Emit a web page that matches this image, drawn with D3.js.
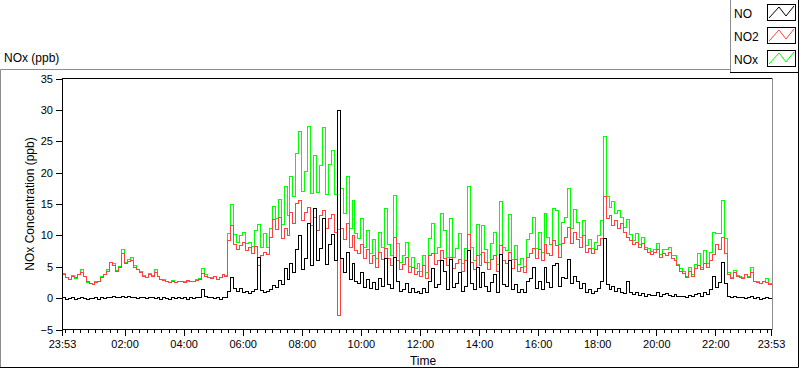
<!DOCTYPE html>
<html>
<head>
<meta charset="utf-8">
<script src="https://cdn.jsdelivr.net/npm/d3@7"></script>
<style>
    body { margin: 0; background: #fff; }
    svg { display: block; font-family: "Liberation Sans", Arial, sans-serif; }
</style>
</head>
<body>
<svg id="chart" width="800" height="369"></svg>
<script>
// readings every 6 min from 23:53, one row per hour
const startTime = new Date(2000, 0, 1, 23, 53)
const endTime = new Date(2000, 0, 2, 23, 53)
const stepMinutes = 6

const seriesNames = ['NO', 'NO2', 'NOx']

const noValues = [
    [0.1, -0.1, 0.0, 0.1, -0.1, 0.0, 0.1, 0.0, -0.1, 0.0],
    [0.0, 0.1, -0.1, 0.1, 0.0, 0.2, 0.1, 0.3, 0.1, 0.2],
    [0.4, 0.2, 0.3, 0.1, 0.2, 0.0, 0.2, 0.1, 0.0, 0.1],
    [0.1, 0.0, 0.1, -0.1, 0.1, 0.0, -0.1, 0.1, 0.0, 0.1],
    [0.0, 0.1, -0.1, 0.1, 0.0, 0.1, 0.2, 1.5, 0.3, 0.1],
    [0.1, 0.0, 0.1, -0.1, 0.1, 0.2, 1.2, 3.4, 1.6, 1.2],
    [1.6, 1.0, 1.2, 0.8, 1.1, 1.4, 6.6, 1.3, 0.9, 1.2],
    [1.4, 2.1, 1.8, 2.9, 2.2, 4.8, 3.1, 5.6, 4.2, 7.9],
    [10.0, 4.6, 6.4, 12.0, 5.2, 14.4, 6.1, 8.0, 12.8, 5.4],
    [8.6, 10.2, 6.0, 30.0, 6.4, 4.2, 7.4, 3.0, 5.6, 2.8],
    [2.4, 4.2, 1.8, 3.0, 1.6, 2.6, 1.4, 3.2, 2.0, 6.4],
    [2.2, 1.6, 6.6, 2.8, 1.2, 1.4, 2.4, 0.9, 1.6, 1.0],
    [1.2, 0.8, 1.6, 0.9, 2.8, 4.8, 1.8, 2.2, 6.0, 4.4],
    [1.4, 6.2, 1.8, 2.4, 4.2, 1.2, 2.0, 7.6, 2.4, 1.4],
    [5.0, 1.8, 4.2, 2.0, 1.2, 2.6, 3.8, 1.0, 7.0, 2.2],
    [2.0, 6.0, 1.4, 2.2, 1.0, 1.4, 0.9, 2.8, 3.2, 5.0],
    [1.6, 2.8, 1.4, 5.0, 2.6, 1.8, 5.2, 5.6, 2.0, 3.4],
    [3.2, 6.2, 2.4, 3.6, 2.8, 1.6, 2.4, 1.0, 1.4, 0.8],
    [1.2, 1.6, 2.8, 9.6, 2.2, 1.4, 2.0, 1.2, 1.6, 1.0],
    [0.8, 2.8, 0.9, 0.6, 1.0, 0.5, 0.8, 0.4, 0.6, 0.5],
    [0.5, 0.9, 0.4, 0.6, 0.8, 0.5, 0.4, 0.6, 0.3, 0.4],
    [0.3, 0.2, 0.5, 0.3, 0.6, 0.8, 0.4, 1.0, 0.6, 1.4],
    [3.6, 1.8, 2.6, 5.8, 2.4, 0.4, 0.2, 0.3, 0.1, 0.2],
    [0.1, 0.0, 0.2, 0.3, 0.0, 0.1, -0.1, 0.0, 0.1, 0.0],
    [0.0]
]

const no2Values = [
    [3.9, 3.4, 3.1, 3.6, 3.3, 3.8, 4.1, 3.5, 2.7, 2.4],
    [2.2, 2.6, 2.8, 3.4, 3.9, 4.4, 5.7, 5.3, 4.4, 4.9],
    [7.2, 5.6, 5.9, 6.0, 5.0, 4.6, 4.1, 3.6, 3.4, 3.9],
    [3.6, 4.1, 3.5, 3.1, 2.9, 2.7, 2.6, 2.8, 2.5, 2.7],
    [2.8, 2.6, 2.9, 2.7, 2.8, 2.9, 3.0, 4.0, 3.5, 3.3],
    [3.2, 3.6, 3.0, 3.4, 3.8, 3.5, 9.2, 11.6, 8.6, 7.8],
    [8.4, 9.0, 7.6, 8.1, 7.2, 8.3, 5.2, 6.9, 7.4, 7.0],
    [9.8, 12.6, 11.0, 12.9, 9.6, 11.2, 10.1, 13.8, 12.0, 15.2],
    [15.6, 12.4, 13.8, 14.5, 11.6, 12.9, 10.8, 13.2, 14.0, 11.2],
    [12.8, 13.4, 10.6, -2.7, 11.2, 9.4, 12.0, 8.2, 10.1, 7.6],
    [7.2, 8.6, 6.4, 7.8, 5.6, 6.9, 5.0, 7.4, 6.2, 8.0],
    [6.4, 5.2, 9.8, 6.0, 4.6, 5.4, 6.6, 4.2, 5.0, 3.8],
    [4.4, 3.6, 5.2, 3.2, 6.8, 7.2, 5.4, 6.0, 7.6, 6.4],
    [5.2, 6.6, 4.8, 5.6, 6.2, 4.4, 6.0, 10.2, 5.8, 4.6],
    [6.8, 5.2, 7.4, 5.8, 4.6, 6.2, 6.8, 4.4, 8.4, 6.0],
    [5.6, 7.4, 4.8, 6.2, 4.4, 5.0, 4.2, 6.6, 7.2, 8.0],
    [6.4, 7.8, 6.0, 8.6, 7.2, 6.8, 9.2, 8.4, 6.6, 8.8],
    [9.8, 11.4, 8.8, 10.6, 9.4, 8.2, 10.0, 7.4, 8.0, 7.2],
    [7.8, 8.4, 9.6, 16.2, 12.8, 13.2, 11.6, 12.4, 11.2, 12.0],
    [10.6, 9.8, 9.2, 8.6, 9.0, 8.2, 8.8, 7.8, 7.4, 7.0],
    [7.4, 7.8, 6.6, 7.2, 6.8, 7.4, 6.4, 6.0, 5.2, 4.4],
    [4.0, 3.4, 4.4, 3.6, 4.8, 5.2, 4.6, 5.6, 5.0, 6.0],
    [7.0, 8.6, 7.8, 9.8, 7.2, 3.8, 3.2, 4.2, 3.6, 3.4],
    [3.2, 3.8, 3.4, 4.2, 2.8, 2.6, 2.4, 2.7, 2.5, 2.3],
    [2.6]
]

const noxValues = [
    [4.0, 3.3, 3.1, 3.7, 3.2, 3.8, 4.6, 3.5, 2.6, 2.4],
    [2.2, 2.7, 2.7, 3.5, 3.9, 4.6, 5.8, 5.6, 4.5, 5.1],
    [7.8, 5.8, 6.2, 6.5, 5.2, 4.6, 4.3, 3.7, 3.4, 4.0],
    [3.7, 4.7, 3.6, 3.0, 3.0, 2.7, 2.5, 2.9, 2.5, 2.8],
    [2.8, 2.7, 2.8, 2.8, 2.8, 3.0, 3.2, 4.8, 3.8, 3.4],
    [3.3, 3.6, 3.1, 3.3, 3.9, 3.7, 10.4, 15.0, 10.2, 9.0],
    [10.0, 10.6, 8.8, 8.9, 8.3, 10.9, 11.8, 8.2, 10.4, 8.2],
    [11.2, 14.7, 12.8, 15.8, 11.8, 17.8, 13.2, 19.4, 16.2, 23.1],
    [26.6, 17.0, 20.2, 27.4, 16.8, 22.8, 16.9, 21.2, 27.2, 16.6],
    [21.4, 23.6, 16.6, 11.0, 17.6, 13.6, 19.4, 11.2, 15.7, 10.4],
    [9.6, 12.8, 8.2, 10.8, 7.2, 9.5, 6.4, 10.6, 8.2, 14.4],
    [8.6, 6.8, 16.4, 8.8, 5.8, 6.8, 9.0, 5.1, 6.6, 4.8],
    [5.6, 4.4, 6.8, 4.1, 9.6, 12.0, 7.2, 8.2, 13.6, 10.8],
    [6.6, 12.8, 6.6, 8.0, 10.4, 5.6, 8.0, 17.8, 8.2, 6.0],
    [11.8, 7.0, 11.6, 7.8, 5.8, 8.8, 10.6, 5.4, 15.4, 8.2],
    [7.6, 13.4, 6.2, 8.4, 5.4, 6.4, 5.1, 9.4, 10.4, 13.0],
    [8.0, 10.6, 7.4, 13.6, 9.8, 8.6, 14.4, 14.0, 8.6, 12.2],
    [13.0, 17.6, 11.2, 14.2, 12.2, 9.8, 12.4, 8.4, 9.4, 8.0],
    [9.0, 10.0, 12.4, 25.8, 16.2, 14.6, 15.4, 13.6, 14.0, 13.0],
    [11.4, 12.6, 10.2, 9.2, 10.4, 8.6, 9.8, 8.2, 8.0, 7.5],
    [7.9, 8.8, 7.0, 7.8, 7.8, 8.2, 6.8, 6.8, 5.5, 4.8],
    [4.3, 3.6, 4.9, 3.9, 5.4, 7.2, 5.0, 7.6, 5.6, 7.4],
    [10.6, 10.4, 10.4, 15.6, 9.6, 4.2, 3.4, 4.5, 3.7, 3.6],
    [3.3, 3.8, 3.6, 5.0, 2.8, 2.7, 2.4, 2.7, 3.2, 2.4],
    [2.6]
]

const yTickValues = [-5, 0, 5, 10, 15, 20, 25, 30, 35]
const xMajorHours = [2, 4, 6, 8, 10, 12, 14, 16, 18, 20, 22]

const colours = { NO: '#000000', NO2: '#ff4040', NOx: '#00ff00' }

const svg = d3.select('#chart')
const plot = { left: 62, right: 771, top: 78.5, bottom: 329.5 }

const toPoints = rows => rows.flat().map((v, i) => ({
    t: d3.timeMinute.offset(startTime, i * stepMinutes),
    v
}))
const series = [
    { name: 'NOx', points: toPoints(noxValues) },
    { name: 'NO2', points: toPoints(no2Values) },
    { name: 'NO', points: toPoints(noValues) }
]

const x = d3.scaleTime().domain([startTime, endTime]).range([plot.left, plot.right])
const y = d3.scaleLinear().domain([-5, 35]).range([plot.bottom, plot.top])

// outer panel frame
svg.append('path')
    .attr('d', 'M0.5,367 V69.5 H730')
    .attr('fill', 'none').attr('stroke', '#8c8c8c')
svg.append('path')
    .attr('d', 'M0,367.5 H798.5 V72')
    .attr('fill', 'none').attr('stroke', '#000')

svg.append('text')
    .attr('x', 4).attr('y', 62)
    .style('font-size', '12px')
    .text('NOx (ppb)')

// plot area borders
svg.append('line')
    .attr('x1', plot.left).attr('x2', 772.5)
    .attr('y1', 78.5).attr('y2', 78.5)
    .attr('stroke', '#000')
svg.append('line')
    .attr('x1', 772.5).attr('x2', 772.5)
    .attr('y1', 78).attr('y2', 330)
    .attr('stroke', '#8c8c8c')

svg.append('clipPath').attr('id', 'clip')
    .append('rect')
    .attr('x', plot.left).attr('y', plot.top - 1)
    .attr('width', plot.right - plot.left + 1).attr('height', plot.bottom - plot.top + 1)

const line = d3.line()
    .x(d => Math.round(x(d.t)) + 0.5)
    .y(d => Math.round(y(d.v)) + 0.5)
    .curve(d3.curveStepAfter)

svg.append('g')
    .attr('clip-path', 'url(#clip)')
    .selectAll('path')
    .data(series)
    .join('path')
    .attr('d', d => line(d.points))
    .attr('fill', 'none')
    .attr('stroke', d => colours[d.name])
    .attr('stroke-width', 1)
    .attr('shape-rendering', 'crispEdges')

// y axis
svg.append('g')
    .attr('transform', `translate(${plot.left}, 0)`)
    .style('font-size', '11px')
    .call(d3.axisLeft(y).tickValues(yTickValues).tickSize(6).tickPadding(3).tickSizeOuter(0))
    .call(g => g.selectAll('line,path').attr('shape-rendering', 'crispEdges'))
    .call(g => g.selectAll('text').attr('fill', '#000'))

// x axis: minor ticks every 15 min, labelled ones every 2 h plus the ends
const minorTicks = d3.timeMinute.every(15).range(new Date(2000, 0, 2, 0, 0), endTime)
const majorTicks = [startTime, ...xMajorHours.map(h => new Date(2000, 0, 2, h, 0)), endTime]

svg.append('g')
    .attr('transform', `translate(0, ${plot.bottom - 0.5})`)
    .call(d3.axisBottom(x).tickValues(minorTicks).tickSize(4).tickFormat('').tickSizeOuter(0))
    .call(g => g.selectAll('line,path').attr('shape-rendering', 'crispEdges'))

svg.append('g')
    .attr('transform', `translate(0, ${plot.bottom - 0.5})`)
    .style('font-size', '11px')
    .call(d3.axisBottom(x).tickValues(majorTicks).tickSize(7).tickPadding(4)
        .tickFormat(d3.timeFormat('%H:%M')).tickSizeOuter(0))
    .call(g => g.selectAll('line,path').attr('shape-rendering', 'crispEdges'))
    .call(g => g.selectAll('text').attr('fill', '#000'))

svg.append('text')
    .attr('x', 423).attr('y', 365)
    .attr('text-anchor', 'middle')
    .style('font-size', '12px')
    .text('Time')

svg.append('text')
    .attr('transform', `translate(34, ${(plot.top + plot.bottom) / 2}) rotate(-90)`)
    .attr('text-anchor', 'middle')
    .style('font-size', '12px')
    .text('NOx Concentration (ppb)')

// legend
const legend = svg.append('g')
legend.append('path')
    .attr('d', 'M730.5,72 V0')
    .attr('fill', 'none').attr('stroke', '#8c8c8c')
legend.append('path')
    .attr('d', 'M730,72.5 H798.5 V0')
    .attr('fill', 'none').attr('stroke', '#000')

const legendRows = legend.selectAll('g.row')
    .data(seriesNames)
    .join('g')
    .attr('class', 'row')
    .attr('transform', (d, i) => `translate(0, ${[0, 23, 46][i]})`)

legendRows.append('text')
    .attr('x', 734).attr('y', 18)
    .style('font-size', '12px')
    .text(d => d)

legendRows.append('rect')
    .attr('x', 767.5).attr('y', 4.5)
    .attr('width', 28).attr('height', 16)
    .attr('fill', '#fff').attr('stroke', '#000')
    .attr('shape-rendering', 'crispEdges')

legendRows.append('polyline')
    .attr('points', '769,18 779,7 786,16 794,6')
    .attr('fill', 'none')
    .attr('stroke', d => colours[d])
</script>
</body>
</html>
